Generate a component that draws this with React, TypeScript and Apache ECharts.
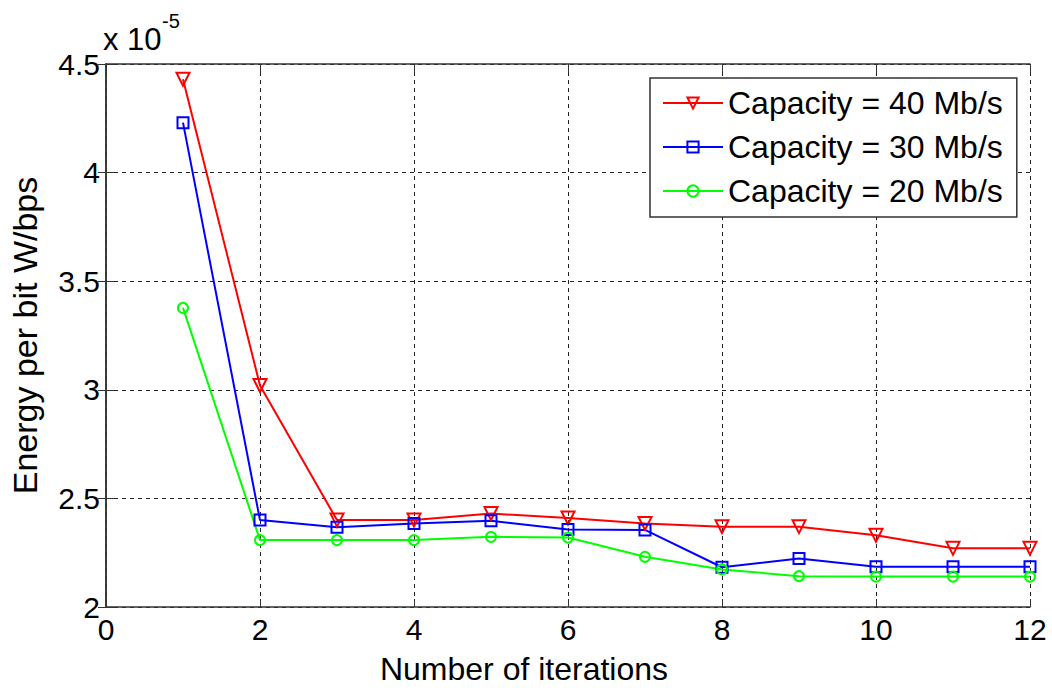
import React, { useEffect, useRef } from "react";
import * as echarts from "echarts";

// Energy per bit values in units of 1e-5 W/bps
const iterations = [1, 2, 3, 4, 5, 6, 7, 8, 9, 10, 11, 12];
const cap40 = [4.43, 3.02, 2.4, 2.4, 2.43, 2.41, 2.385, 2.37, 2.37, 2.33, 2.27, 2.27];
const cap30 = [4.23, 2.4, 2.367, 2.385, 2.397, 2.357, 2.355, 2.183, 2.223, 2.185, 2.185, 2.185];
const cap20 = [3.377, 2.308, 2.308, 2.308, 2.323, 2.32, 2.231, 2.173, 2.142, 2.14, 2.14, 2.14];
const seriesNames = ["Capacity = 40 Mb/s", "Capacity = 30 Mb/s", "Capacity = 20 Mb/s"];
const xTitle = "Number of iterations";
const yTitle = "Energy per bit W/bps";
const scaleBase = "x 10";
const scaleExp = "-5";

const FONT = "'Liberation Sans', Arial, Helvetica, sans-serif";

export default function App() {
  const ref = useRef<HTMLDivElement>(null);
  useEffect(() => {
    if (!ref.current) return;
    const chart = echarts.init(ref.current, null, { renderer: "svg" });
    const mk = (name: string, vals: number[], color: string, symbol: string, size: number, rotate = 0) => ({
      name,
      type: "line",
      data: iterations.map((x, i) => [x, vals[i]]),
      symbol,
      symbolSize: size,
      symbolRotate: rotate,
      showAllSymbol: true,
      lineStyle: { color, width: 2 },
      itemStyle: { color: "rgba(255,255,255,0)", borderColor: color, borderWidth: 2 },
      emphasis: { disabled: true },
      z: 3,
    });
    const gridDash = { color: "#222", width: 1, type: [4, 4] as any };
    const axisLine = { show: true, lineStyle: { color: "#333", width: 1.5 } };
    chart.setOption({
      animation: false,
      backgroundColor: "#fff",
      grid: { left: 104, right: 22, top: 64, bottom: 80, containLabel: false },
      xAxis: [
        {
          type: "value",
          min: 0,
          max: 12,
          interval: 2,
          position: "bottom",
          axisLine,
          axisTick: { show: true, inside: true, length: 8, lineStyle: { color: "#333" } },
          axisLabel: { fontSize: 30, color: "#000", fontFamily: FONT, margin: 7 },
          splitLine: { show: true, lineStyle: gridDash },
          name: xTitle,
          nameLocation: "middle",
          nameGap: 46,
          nameTextStyle: { fontSize: 32, color: "#000", fontFamily: FONT, padding: [0, 88, 0, 0], lineHeight: 32 },
        },
        {
          type: "value",
          min: 0,
          max: 12,
          interval: 2,
          position: "top",
          axisLine,
          axisTick: { show: true, inside: true, length: 8, lineStyle: { color: "#333" } },
          axisLabel: { show: false },
          splitLine: { show: false },
        },
      ],
      yAxis: [
        {
          type: "value",
          min: 2,
          max: 4.5,
          interval: 0.5,
          position: "left",
          axisLine,
          axisTick: { show: true, inside: true, length: 8, lineStyle: { color: "#333" } },
          axisLabel: { fontSize: 30, color: "#000", fontFamily: FONT, margin: 6 },
          splitLine: { show: true, lineStyle: gridDash },
          name: yTitle,
          nameLocation: "middle",
          nameGap: 64,
          nameTextStyle: { fontSize: 34, color: "#000", fontFamily: FONT, lineHeight: 34 },
        },
        {
          type: "value",
          min: 2,
          max: 4.5,
          interval: 0.5,
          position: "right",
          axisLine,
          axisTick: { show: true, inside: true, length: 8, lineStyle: { color: "#333" } },
          axisLabel: { show: false },
          splitLine: { show: false },
        },
      ],
      legend: {
        orient: "vertical",
        left: 650,
        top: 78,
        width: 370,
        itemWidth: 60,
        itemHeight: 14,
        itemGap: 12,
        padding: [9, 14, 10, 12],
        borderColor: "#333",
        borderWidth: 1.5,
        backgroundColor: "#fff",
        textStyle: { fontSize: 32, color: "#000", fontFamily: FONT, lineHeight: 32 },
        data: seriesNames,
      },
      graphic: [
        {
          type: "text",
          left: 103,
          top: 24,
          style: { text: scaleBase, fontSize: 31, fill: "#000", fontFamily: FONT },
        },
        {
          type: "text",
          left: 162,
          top: 11,
          style: { text: scaleExp, fontSize: 20, fill: "#000", fontFamily: FONT },
        },
      ],
      series: [
        mk(seriesNames[0], cap40, "#ff0000", "triangle", 13, 180),
        mk(seriesNames[1], cap30, "#0000ff", "rect", 11),
        mk(seriesNames[2], cap20, "#00ff00", "circle", 10),
      ],
    });
    return () => chart.dispose();
  }, []);
  return (
    <div
      ref={ref}
      style={{ position: "fixed", left: 0, top: 0, width: 1052, height: 690, background: "#fff" }}
    />
  );
}
